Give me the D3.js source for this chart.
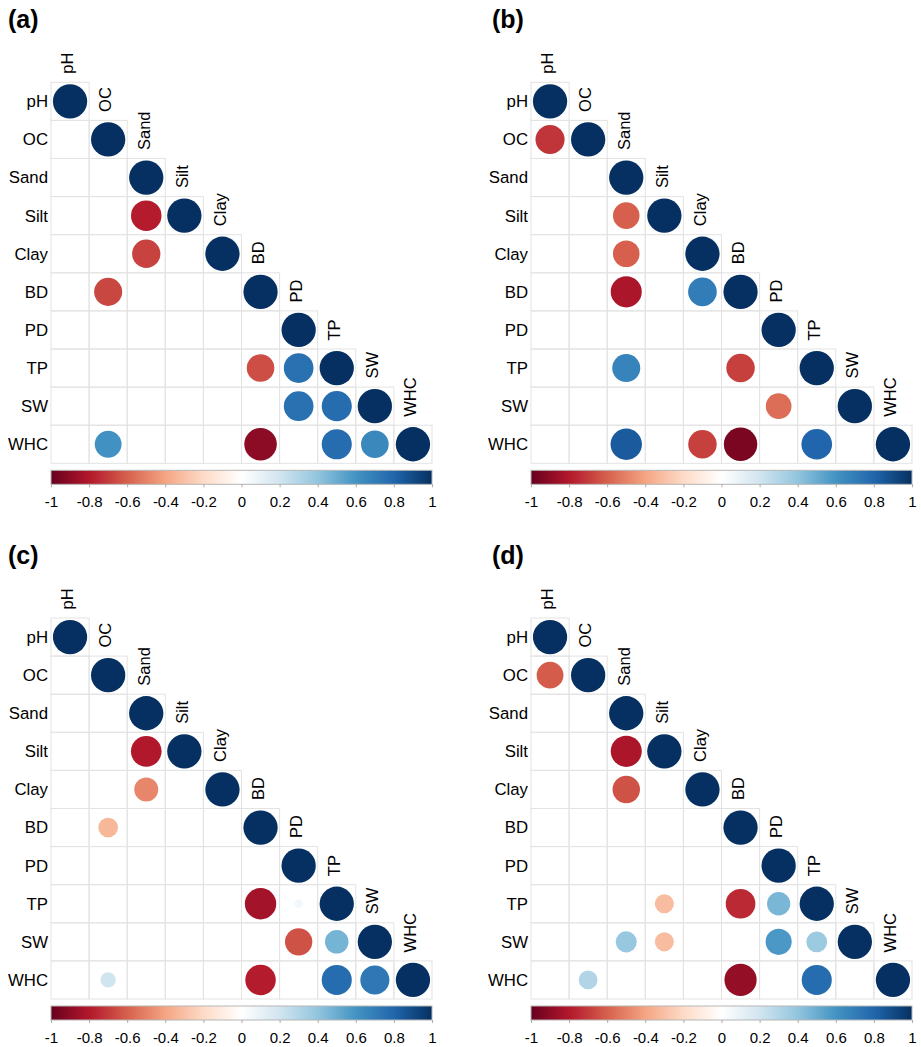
<!DOCTYPE html>
<html>
<head>
<meta charset="utf-8">
<script src="https://cdn.jsdelivr.net/npm/d3@7"></script>
<style>
  body { margin: 0; background: #fff; }
  text { font-family: "Liberation Sans", Arial, sans-serif; fill: #000; }
</style>
</head>
<body>
<div id="chart"></div>
<script>
// variable names (rows and columns)
var vars = ["pH", "OC", "Sand", "Silt", "Clay", "BD", "PD", "TP", "SW", "WHC"];

// lower triangle of each correlation matrix, null = not significant (blank)
var corrA = [
  [1],
  [null, 1],
  [null, null, 1],
  [null, null, -0.79, 1],
  [null, null, -0.68, null, 1],
  [null, -0.67, null, null, null, 1],
  [null, null, null, null, null, null, 1],
  [null, null, null, null, null, -0.65, 0.75, 1],
  [null, null, null, null, null, null, 0.75, 0.77, 1],
  [null, 0.61, null, null, null, -0.9, null, 0.77, 0.65, 1]
];
var corrB = [
  [1],
  [-0.72, 1],
  [null, null, 1],
  [null, null, -0.6, 1],
  [null, null, -0.6, null, 1],
  [null, null, -0.82, null, 0.7, 1],
  [null, null, null, null, null, null, 1],
  [null, null, 0.67, null, null, -0.69, null, 1],
  [null, null, null, null, null, null, -0.56, null, 1],
  [null, null, 0.84, null, -0.69, -0.95, null, 0.8, null, 1]
];
var corrC = [
  [1],
  [null, 1],
  [null, null, 1],
  [null, null, -0.8, 1],
  [null, null, -0.49, null, 1],
  [null, -0.33, null, null, null, 1],
  [null, null, null, null, null, null, 1],
  [null, null, null, null, null, -0.84, 0.06, 1],
  [null, null, null, null, null, null, -0.64, 0.47, 1],
  [null, 0.2, null, null, null, -0.79, null, 0.77, 0.72, 1]
];
var corrD = [
  [1],
  [-0.61, 1],
  [null, null, 1],
  [null, null, -0.82, 1],
  [null, null, -0.64, null, 1],
  [null, null, null, null, null, 1],
  [null, null, null, null, null, null, 1],
  [null, null, null, -0.31, null, -0.75, 0.46, 1],
  [null, null, 0.38, -0.31, null, null, 0.58, 0.37, 1],
  [null, 0.3, null, null, null, -0.88, null, 0.77, null, 1]
];

var panelLabels = ["(a)", "(b)", "(c)", "(d)"];
var colorTicks = [-1, -0.8, -0.6, -0.4, -0.2, 0, 0.2, 0.4, 0.6, 0.8, 1];

// corrplot RdBu palette
var palette = ["#67001F", "#B2182B", "#D6604D", "#F4A582", "#FDDBC7", "#FFFFFF",
               "#D1E5F0", "#92C5DE", "#4393C3", "#2166AC", "#053061"];

var W = 921, H = 1047;
var size = 381; // grid width / height

var color = d3.scaleLinear()
  .domain(d3.range(palette.length).map(function(i) { return -1 + 2 * i / (palette.length - 1); }))
  .range(palette);

var svg = d3.select("#chart").append("svg")
  .attr("width", W)
  .attr("height", H);

var defs = svg.append("defs");
var grad = defs.append("linearGradient").attr("id", "cbar")
  .attr("x1", "0%").attr("x2", "100%").attr("y1", "0%").attr("y2", "0%");
grad.selectAll("stop")
  .data(d3.range(0, 1.0001, 0.02))
  .enter().append("stop")
  .attr("offset", function(t) { return (t * 100) + "%"; })
  .attr("stop-color", function(t) { return color(-1 + 2 * t); });

var panels = [
  {data: corrA, label: panelLabels[0], ox: 51, oy: 82.3, lx: 8},
  {data: corrB, label: panelLabels[1], ox: 531, oy: 82.3, lx: 492},
  {data: corrC, label: panelLabels[2], ox: 51, oy: 618, lx: 8},
  {data: corrD, label: panelLabels[3], ox: 531, oy: 618, lx: 492}
];

var x = d3.scaleBand().domain(vars).range([0, size]);
var y = d3.scaleBand().domain(vars).range([0, size]);
var cell = x.bandwidth();
var rScale = function(v) { return 0.45 * cell * Math.sqrt(Math.abs(v)); };

panels.forEach(function(p) {
  // panel letter
  svg.append("text")
    .attr("x", p.lx)
    .attr("y", p.oy - 54)
    .style("font-size", "25px")
    .style("font-weight", "bold")
    .text(p.label);

  var g = svg.append("g").attr("transform", "translate(" + p.ox + "," + p.oy + ")");

  // flatten lower triangle
  var cells = [];
  p.data.forEach(function(row, i) {
    row.forEach(function(v, j) {
      cells.push({row: vars[i], col: vars[j], v: v});
    });
  });

  // grid
  g.selectAll("rect.cell")
    .data(cells)
    .enter().append("rect")
    .attr("class", "cell")
    .attr("x", function(d) { return x(d.col); })
    .attr("y", function(d) { return y(d.row); })
    .attr("width", cell)
    .attr("height", cell)
    .attr("fill", "none")
    .attr("stroke", "#e3e3e3")
    .attr("stroke-width", 1);

  // circles
  g.selectAll("circle")
    .data(cells.filter(function(d) { return d.v !== null; }))
    .enter().append("circle")
    .attr("cx", function(d) { return x(d.col) + cell / 2; })
    .attr("cy", function(d) { return y(d.row) + cell / 2; })
    .attr("r", function(d) { return rScale(d.v); })
    .attr("fill", function(d) { return color(d.v); });

  // row labels
  g.selectAll("text.rowlab")
    .data(vars)
    .enter().append("text")
    .attr("class", "rowlab")
    .attr("x", -3)
    .attr("y", function(d) { return y(d) + cell / 2; })
    .attr("dy", "0.35em")
    .attr("text-anchor", "end")
    .style("font-size", "16.8px")
    .text(function(d) { return d; });

  // column labels above the diagonal
  g.selectAll("text.collab")
    .data(vars)
    .enter().append("text")
    .attr("class", "collab")
    .attr("transform", function(d) {
      return "translate(" + (x(d) + cell / 2) + "," + (y(d) - 8.5) + ") rotate(-90)";
    })
    .attr("dy", "0.2em")
    .attr("text-anchor", "start")
    .style("font-size", "16.5px")
    .text(function(d) { return d; });

  // colour bar
  var cb = g.append("g").attr("transform", "translate(0," + (size + 7) + ")");
  var cx = d3.scaleLinear().domain([-1, 1]).range([0, size]);
  cb.append("rect")
    .attr("width", size)
    .attr("height", 14)
    .attr("fill", "url(#cbar)")
    .attr("stroke", "#b5b5b5")
    .attr("stroke-width", 1);

  var axis = cb.append("g")
    .attr("transform", "translate(0,14)")
    .call(d3.axisBottom(cx).tickValues(colorTicks).tickSize(3).tickSizeOuter(0)
      .tickFormat(function(d) { return String(d); }));
  axis.select(".domain").remove();
  axis.selectAll(".tick line").attr("stroke", "#aaa");
  axis.selectAll(".tick text")
    .attr("y", 12)
    .style("font-size", "15px")
    .style("font-family", "'Liberation Sans', Arial, sans-serif")
    .attr("fill", "#000");
});
</script>
</body>
</html>
